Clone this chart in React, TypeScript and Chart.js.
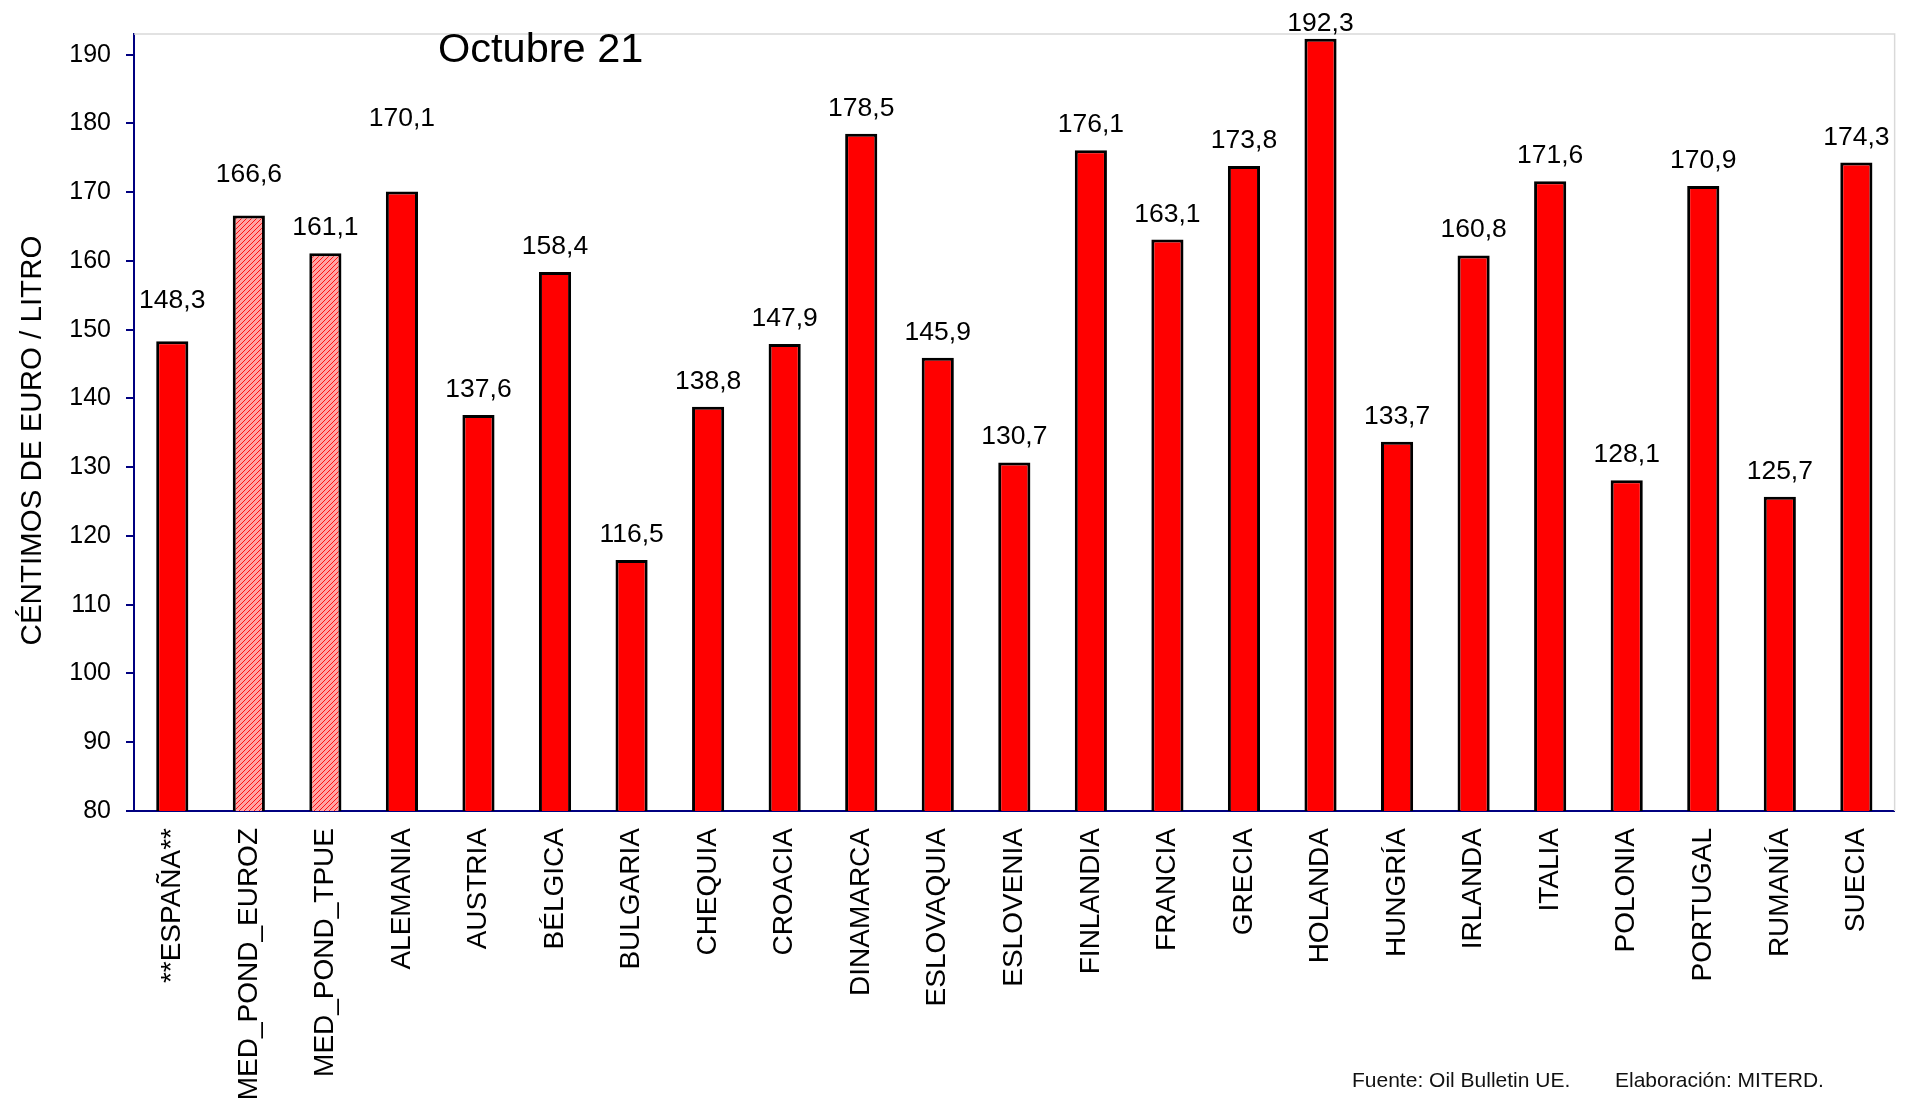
import React, { useEffect, useRef } from 'react';
import { Chart, registerables } from 'chart.js';

Chart.register(...registerables);

// ---- Data ----
const categories = [
  '**ESPAÑA**', 'MED_POND_EUROZ', 'MED_POND_TPUE', 'ALEMANIA', 'AUSTRIA', 'BÉLGICA',
  'BULGARIA', 'CHEQUIA', 'CROACIA', 'DINAMARCA', 'ESLOVAQUIA', 'ESLOVENIA', 'FINLANDIA',
  'FRANCIA', 'GRECIA', 'HOLANDA', 'HUNGRÍA', 'IRLANDA', 'ITALIA', 'POLONIA', 'PORTUGAL',
  'RUMANÍA', 'SUECIA',
];
const values = [
  148.3, 166.6, 161.1, 170.1, 137.6, 158.4,
  116.5, 138.8, 147.9, 178.5, 145.9, 130.7, 176.1,
  163.1, 173.8, 192.3, 133.7, 160.8, 171.6, 128.1, 170.9,
  125.7, 174.3,
];
const hatchedCategories = ['MED_POND_EUROZ', 'MED_POND_TPUE'];
const yMin = 80;
const yMax = 193;
const yStep = 10;
const chartTitle = 'Octubre 21';
const yAxisTitle = 'CÉNTIMOS DE EURO / LITRO';
const footerSource = 'Fuente: Oil Bulletin UE.';
const footerAuthor = 'Elaboración: MITERD.';

// ---- Styles ----
const FONT = '"Liberation Sans", Arial, Helvetica, sans-serif';
const AXIS_COLOR = '#000080';
const BAR_RED = '#ff0000';
const labelLiftDefault = 27;
const labelLiftOverride: Record<number, number> = { 0: 42, 1: 43, 3: 74, 15: 17 };

const formatValue = (v: number) => v.toFixed(1).replace('.', ',');

function makeHatch(): CanvasPattern | string {
  const c = document.createElement('canvas');
  const s = 5;
  c.width = s;
  c.height = s;
  const g = c.getContext('2d');
  if (!g) return '#ff8080';
  g.fillStyle = '#ffa3a3';
  g.fillRect(0, 0, s, s);
  g.strokeStyle = '#ff1010';
  g.lineWidth = 1.0;
  g.beginPath();
  g.moveTo(-1, s + 1);
  g.lineTo(s + 1, -1);
  g.moveTo(-1, 1);
  g.lineTo(1, -1);
  g.moveTo(s - 1, s + 1);
  g.lineTo(s + 1, s - 1);
  g.stroke();
  const p = g.createPattern(c, 'repeat');
  return p || '#ff8080';
}

const decorations = {
  id: 'decorations',
  beforeDatasetsDraw(chart: any) {
    const { ctx, chartArea: a } = chart;
    ctx.save();
    ctx.strokeStyle = '#d9d9d9';
    ctx.lineWidth = 1.5;
    ctx.beginPath();
    ctx.moveTo(a.left, a.top);
    ctx.lineTo(a.right, a.top);
    ctx.lineTo(a.right, a.bottom);
    ctx.stroke();
    ctx.restore();
  },
  afterDatasetsDraw(chart: any) {
    const { ctx, chartArea: a } = chart;
    const meta = chart.getDatasetMeta(0);
    ctx.save();
    ctx.fillStyle = '#000';
    // value labels
    ctx.font = `26.5px ${FONT}`;
    ctx.textAlign = 'center';
    ctx.textBaseline = 'alphabetic';
    meta.data.forEach((bar: any, i: number) => {
      const lift = labelLiftOverride[i] ?? labelLiftDefault;
      ctx.fillText(formatValue(values[i]), bar.x, bar.y - lift + 9);
    });
    // chart title
    ctx.font = `41.5px ${FONT}`;
    ctx.textAlign = 'left';
    ctx.fillText(chartTitle, a.left + 304, 62);
    // y axis title
    ctx.save();
    ctx.translate(41, (a.top + a.bottom) / 2 + 18);
    ctx.rotate(-Math.PI / 2);
    ctx.font = `29.5px ${FONT}`;
    ctx.textAlign = 'center';
    ctx.fillText(yAxisTitle, 0, 0);
    ctx.restore();
    // footer
    ctx.font = `21px ${FONT}`;
    ctx.fillStyle = '#111';
    ctx.textAlign = 'left';
    ctx.fillText(footerSource, 1352, 1087);
    ctx.fillText(footerAuthor, 1615, 1087);
    ctx.restore();
  },
};

export default function App() {
  const ref = useRef<HTMLCanvasElement | null>(null);

  useEffect(() => {
    const canvas = ref.current;
    if (!canvas) return;
    const hatch = makeHatch();
    const chart = new Chart(canvas, {
      type: 'bar',
      data: {
        labels: categories,
        datasets: [
          {
            data: values,
            backgroundColor: categories.map((c) => (hatchedCategories.includes(c) ? hatch : BAR_RED)) as any,
            borderColor: '#000',
            borderWidth: 3,
            barPercentage: 0.42,
            categoryPercentage: 1,
          },
        ],
      },
      options: {
        responsive: false,
        animation: false,
        devicePixelRatio: 1,
        layout: { padding: { top: 34, right: 2, left: 0, bottom: 0 } },
        plugins: {
          legend: { display: false },
          tooltip: { enabled: false },
          title: { display: false },
        },
        scales: {
          x: {
            grid: { display: true, drawOnChartArea: false, drawTicks: false },
            border: { display: true, color: AXIS_COLOR, width: 2 },
            ticks: {
              autoSkip: false,
              maxRotation: 90,
              minRotation: 90,
              padding: 17,
              color: '#000',
              font: { family: FONT, size: 28 },
            },
            afterFit: (s: any) => {
              s.height = 288;
            },
          },
          y: {
            min: yMin,
            max: yMax,
            grid: { drawOnChartArea: false, drawTicks: true, tickLength: 8, color: AXIS_COLOR, lineWidth: 2 },
            border: { display: true, color: AXIS_COLOR, width: 2 },
            ticks: {
              stepSize: yStep,
              includeBounds: false,
              padding: 15,
              color: '#000',
              font: { family: FONT, size: 25 },
            },
            afterFit: (s: any) => {
              s.width = 134;
            },
          },
        },
      } as any,
      plugins: [decorations],
    });
    return () => chart.destroy();
  }, []);

  return (
    <div style={{ position: 'fixed', left: 0, top: 0, width: 1907, height: 1099, background: '#fff' }}>
      <canvas ref={ref} width={1907} height={1099} style={{ display: 'block' }} />
    </div>
  );
}
